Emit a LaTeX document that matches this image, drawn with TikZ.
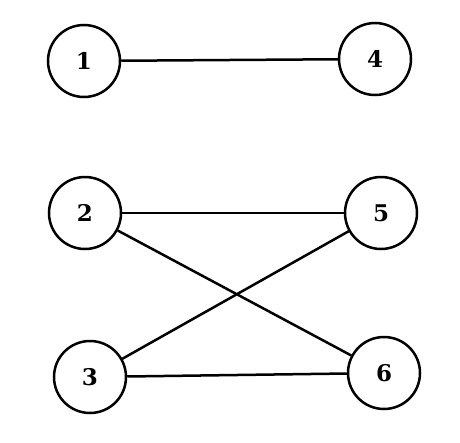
\documentclass[tikz,border=0pt]{standalone}
\usepackage{fontspec}
\setmainfont{DejaVu Serif}
\begin{document}
\begin{tikzpicture}[x=1pt,y=-1pt,
  vert/.style={circle,draw,line width=2.5pt,minimum size=72pt,inner sep=0pt,font=\bfseries\fontsize{23}{23}\selectfont},
  edge/.style={line width=2.5pt}]
\useasboundingbox (0,0) rectangle (460,442);
\node[vert] (n1) at (84,61) {1};
\node[vert] (n4) at (375,59) {4};
\node[vert] (n2) at (85,213) {2};
\node[vert] (n5) at (381,213) {5};
\node[vert] (n3) at (90,377) {3};
\node[vert] (n6) at (384,373) {6};
\draw[edge] (n1) -- (n4);
\draw[edge] (n2) -- (n5);
\draw[edge] (n2) -- (n6);
\draw[edge] (n3) -- (n5);
\draw[edge] (n3) -- (n6);
\end{tikzpicture}
\end{document}
